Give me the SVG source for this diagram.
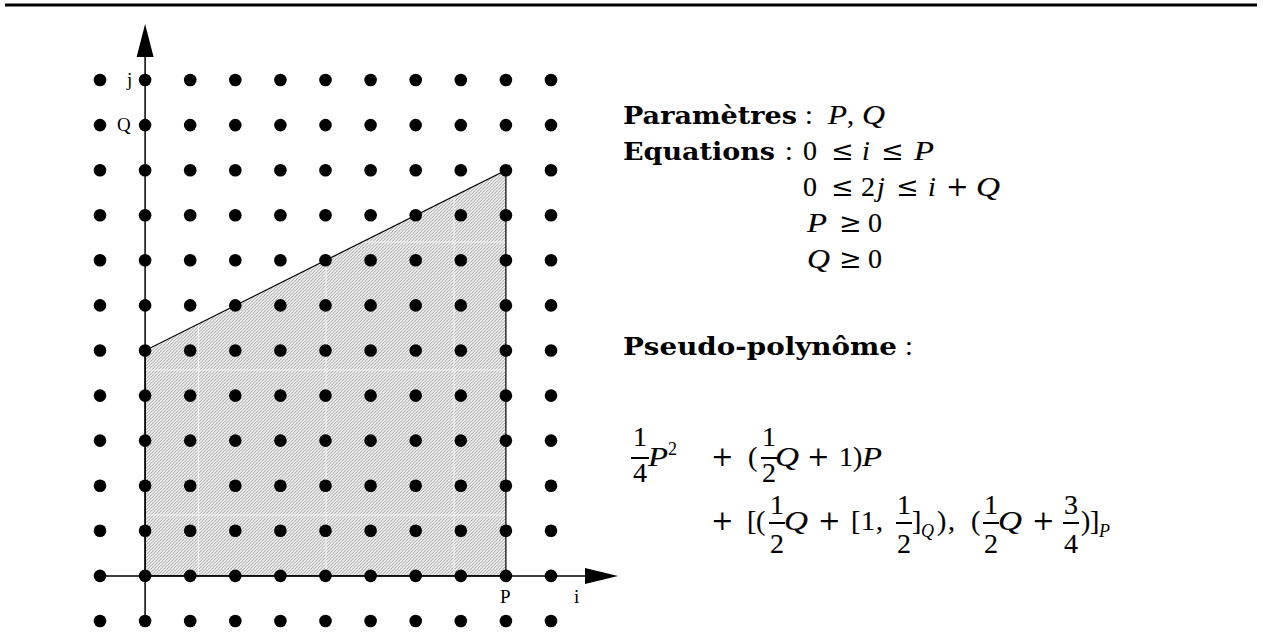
<svg xmlns="http://www.w3.org/2000/svg" width="1263" height="643" viewBox="0 0 1263 643">
<style>
.b{font-family:"DejaVu Serif",serif;font-weight:bold;font-size:24px;fill:#000}
.m{font-family:"Liberation Serif",serif;font-size:28px;fill:#000;stroke:#000;stroke-width:0.15}
.i{font-style:italic}
.op{font-family:"DejaVu Serif",serif;font-size:27px;fill:#000}
.s{font-family:"Liberation Serif",serif;font-size:18px;fill:#000}
.ax{font-family:"Liberation Serif",serif;font-size:19px;fill:#000}
.c{text-anchor:middle}
.axis{stroke:#000;stroke-width:1.5;fill:none}
</style>
<defs>
<pattern id="hatch" patternUnits="userSpaceOnUse" width="3.2" height="3.2">
<path d="M-1,1 L1,-1 M0,3.2 L3.2,0 M2.2,4.2 L4.2,2.2" stroke="#969696" stroke-width="0.85"/>
</pattern>
<clipPath id="clipReg"><polygon points="145.1,575.9 505.9,575.9 505.9,170.2 145.1,350.5"/></clipPath>
<g id="row">
<circle cx="100" cy="0" r="6.3"/><circle cx="145.1" cy="0" r="6.3"/><circle cx="190.2" cy="0" r="6.3"/><circle cx="235.3" cy="0" r="6.3"/><circle cx="280.4" cy="0" r="6.3"/><circle cx="325.5" cy="0" r="6.3"/><circle cx="370.6" cy="0" r="6.3"/><circle cx="415.7" cy="0" r="6.3"/><circle cx="460.8" cy="0" r="6.3"/><circle cx="505.9" cy="0" r="6.3"/><circle cx="551" cy="0" r="6.3"/>
</g>
</defs>
<rect width="1263" height="643" fill="#fff"/>
<line x1="5" y1="5" x2="1257" y2="5" stroke="#000" stroke-width="3"/>

<g id="region">
<polygon points="145.1,575.9 505.9,575.9 505.9,170.2 145.1,350.5" fill="url(#hatch)"/>
<g clip-path="url(#clipReg)" stroke="#fff" stroke-width="1" opacity="0.8">
<line x1="140" y1="242" x2="510" y2="242"/><line x1="140" y1="370" x2="510" y2="370"/><line x1="140" y1="515" x2="510" y2="515"/>
<line x1="198.5" y1="160" x2="198.5" y2="580"/><line x1="326" y1="160" x2="326" y2="580"/><line x1="454" y1="160" x2="454" y2="580"/>
</g>
<polygon points="145.1,575.9 505.9,575.9 505.9,170.2 145.1,350.5" fill="none" stroke="#000" stroke-width="1.2"/>
</g>

<g id="axes">
<line class="axis" x1="145.1" y1="621" x2="145.1" y2="50"/>
<polygon points="145.1,24 136.6,57 153.6,57" fill="#000"/>
<line class="axis" x1="100" y1="575.9" x2="590" y2="575.9"/>
<polygon points="618,575.9 585,567.9 585,583.9" fill="#000"/>
</g>

<g id="dots" fill="#000">
<use href="#row" y="80"/><use href="#row" y="125.1"/><use href="#row" y="170.2"/><use href="#row" y="215.2"/><use href="#row" y="260.3"/><use href="#row" y="305.4"/><use href="#row" y="350.5"/><use href="#row" y="395.6"/><use href="#row" y="440.6"/><use href="#row" y="485.7"/><use href="#row" y="530.8"/><use href="#row" y="575.9"/><use href="#row" y="621"/>
</g>

<g id="axis-labels">
<text class="ax" x="127" y="86">j</text>
<text class="ax" x="117" y="131">Q</text>
<text class="ax" x="500" y="603">P</text>
<text class="ax" x="574" y="603">i</text>
</g>

<g id="parametres">
<text class="b" x="623" y="124" textLength="174" lengthAdjust="spacingAndGlyphs">Paramètres</text>
<text class="m" x="805" y="124">:</text>
<text class="m i" x="828" y="124" textLength="19" lengthAdjust="spacingAndGlyphs">P</text>
<text class="m" x="847" y="124">,</text>
<text class="m i" x="862" y="124" textLength="23" lengthAdjust="spacingAndGlyphs">Q</text>
</g>

<g id="equations">
<text class="b" x="623" y="160" textLength="152" lengthAdjust="spacingAndGlyphs">Equations</text>
<text class="m" x="785" y="160">:</text>
<text class="m" x="803" y="160">0</text>
<text class="op" x="831" y="160">≤</text>
<text class="m i" x="862" y="160">i</text>
<text class="op" x="881" y="160">≤</text>
<text class="m i" x="914" y="160" textLength="20" lengthAdjust="spacingAndGlyphs">P</text>

<text class="m" x="803" y="196">0</text>
<text class="op" x="831" y="196">≤</text>
<text class="m" x="861" y="196">2</text>
<text class="m i" x="877" y="196">j</text>
<text class="op" x="896" y="196">≤</text>
<text class="m i" x="928" y="196">i</text>
<text class="op" x="946" y="196">+</text>
<text class="m i" x="976" y="196" textLength="24" lengthAdjust="spacingAndGlyphs">Q</text>

<text class="m i" x="807" y="232" textLength="20" lengthAdjust="spacingAndGlyphs">P</text>
<text class="op" x="839" y="232">≥</text>
<text class="m" x="868" y="232">0</text>

<text class="m i" x="807" y="268" textLength="23" lengthAdjust="spacingAndGlyphs">Q</text>
<text class="op" x="839" y="268">≥</text>
<text class="m" x="868" y="268">0</text>
</g>

<g id="pseudo">
<text class="b" x="623" y="355" textLength="274" lengthAdjust="spacingAndGlyphs">Pseudo-polynôme</text>
<text class="m" x="905" y="355">:</text>
</g>

<g id="formula1">
<text class="m c" x="640" y="446">1</text>
<text class="m c" x="640" y="482">4</text>
<text class="m i" x="648" y="466" textLength="20" lengthAdjust="spacingAndGlyphs">P</text>
<text class="s" x="668" y="455">2</text>
<text class="op" x="711" y="466">+</text>
<text class="m" x="748" y="466">(</text>
<text class="m c" x="769" y="446">1</text>
<text class="m c" x="769" y="482">2</text>
<text class="m i" x="775" y="466" textLength="24" lengthAdjust="spacingAndGlyphs">Q</text>
<text class="op" x="807" y="466">+</text>
<text class="m" x="839" y="466">1</text>
<text class="m" x="853" y="466">)</text>
<text class="m i" x="862" y="466" textLength="20" lengthAdjust="spacingAndGlyphs">P</text>
</g>

<g id="formula2">
<text class="op" x="711" y="530">+</text>
<text class="m" x="747" y="530">[</text>
<text class="m" x="756" y="530">(</text>
<text class="m c" x="777" y="514">1</text>
<text class="m c" x="777" y="553">2</text>
<text class="m i" x="784" y="530" textLength="24" lengthAdjust="spacingAndGlyphs">Q</text>
<text class="op" x="818" y="530">+</text>
<text class="m" x="851" y="530">[</text>
<text class="m" x="861" y="530">1</text>
<text class="m" x="876" y="530">,</text>
<text class="m c" x="904" y="514">1</text>
<text class="m c" x="904" y="553">2</text>
<text class="m" x="912" y="530">]</text>
<text class="s i" x="921" y="537">Q</text>
<text class="m" x="937" y="530">)</text>
<text class="m" x="948" y="530">,</text>
<text class="m" x="971" y="530">(</text>
<text class="m c" x="991" y="514">1</text>
<text class="m c" x="991" y="553">2</text>
<text class="m i" x="998" y="530" textLength="24" lengthAdjust="spacingAndGlyphs">Q</text>
<text class="op" x="1032" y="530">+</text>
<text class="m c" x="1071" y="514">3</text>
<text class="m c" x="1071" y="553">4</text>
<text class="m" x="1081" y="530">)</text>
<text class="m" x="1090" y="530">]</text>
<text class="s i" x="1099" y="537">P</text>
</g>

<g id="fraction-bars" stroke="#000" stroke-width="2">
<line x1="631" y1="458" x2="649" y2="458"/>
<line x1="761" y1="458" x2="777" y2="458"/>
<line x1="769" y1="523" x2="785" y2="523"/>
<line x1="896" y1="523" x2="912" y2="523"/>
<line x1="983" y1="523" x2="999" y2="523"/>
<line x1="1063" y1="523" x2="1079" y2="523"/>
</g>
</svg>
